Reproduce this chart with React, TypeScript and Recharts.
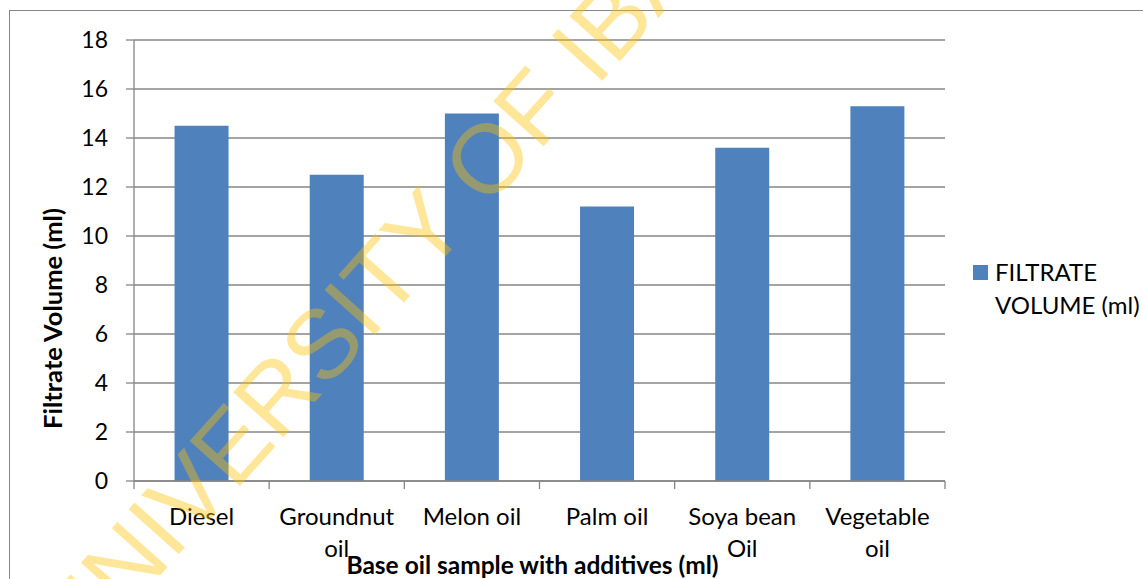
import { BarChart, Bar, XAxis, YAxis, CartesianGrid, Legend } from 'recharts';

// values
const CATEGORIES = ['Diesel', 'Groundnut oil', 'Melon oil', 'Palm oil', 'Soya bean Oil', 'Vegetable oil'];
const FILTRATE_VOLUME = [14.5, 12.5, 15.0, 11.2, 13.6, 15.3];
const Y_TICKS = [0, 2, 4, 6, 8, 10, 12, 14, 16, 18];
const SERIES_NAME = 'FILTRATE VOLUME (ml)';
const X_TITLE = 'Base oil sample with additives (ml)';
const Y_TITLE = 'Filtrate Volume (ml)';
const WATERMARK = 'UNIVERSITY OF IBADAN';

const BAR_COLOR = '#4F81BD';
const LINE_COLOR = '#868686';
const FONT = 'Lato, "Open Sans", sans-serif';

const data = CATEGORIES.map((name, i) => ({ name, volume: FILTRATE_VOLUME[i] }));

// Excel-style wrapping: long labels break at the last space
function splitLabel(label: string) {
    if (label.length <= 10) return [label];
    const i = label.lastIndexOf(' ');
    return [label.slice(0, i), label.slice(i + 1)];
}

function CategoryTick(props: any) {
    const { x, y, payload, index, visibleTicksCount, width } = props;
    const half = payload.offset || width / visibleTicksCount / 2;
    const lines = splitLabel(payload.value);
    const axisY = y - 8;
    return (
        <g>
            <line x1={x - half} x2={x - half} y1={axisY} y2={axisY + 8} stroke={LINE_COLOR} strokeWidth={1.3} />
            {index === visibleTicksCount - 1 && (
                <line x1={x + half} x2={x + half} y1={axisY} y2={axisY + 8} stroke={LINE_COLOR} strokeWidth={1.3} />
            )}
            <text textAnchor="middle" fontSize={24} fontFamily={FONT} fill="#000">
                {lines.map((l, i) => (
                    <tspan key={i} x={x} y={y + 36 + i * 32}>{l}</tspan>
                ))}
            </text>
        </g>
    );
}

function LegendBox() {
    return (
        <div style={{ display: 'flex', fontFamily: FONT, fontSize: 24, lineHeight: '33px', color: '#000' }}>
            <div style={{ width: 15, height: 15, background: BAR_COLOR, marginTop: 10, marginRight: 7, flexShrink: 0 }} />
            <div>
                FILTRATE<br />VOLUME (ml)
            </div>
        </div>
    );
}

export default function App() {
    return (
        <div style={{ position: 'fixed', left: 0, top: 0, width: 1143, height: 579, overflow: 'hidden', background: '#fff' }}>
            <div style={{ position: 'absolute', left: 9, top: 10, width: 1300, height: 700, border: `1.5px solid ${LINE_COLOR}` }} />
            <div style={{ position: 'absolute', left: 0, top: 0 }}>
                <BarChart
                    width={1143}
                    height={579}
                    data={data}
                    margin={{ top: 40, right: 198, left: 0, bottom: 0 }}
                    barCategoryGap="30%"
                >
                    <CartesianGrid vertical={false} stroke={LINE_COLOR} strokeWidth={1.3} />
                    <XAxis
                        dataKey="name"
                        height={98}
                        interval={0}
                        tickLine={false}
                        tickSize={8}
                        tickMargin={0}
                        axisLine={{ stroke: LINE_COLOR, strokeWidth: 1.3 }}
                        tick={<CategoryTick />}
                        label={{
                            content: ({ viewBox }: any) => (
                                <text
                                    x={viewBox.x + viewBox.width / 2 - 7}
                                    y={viewBox.y + 93}
                                    textAnchor="middle"
                                    fontFamily={FONT}
                                    fontWeight="bold"
                                    fontSize={24.5}
                                    fill="#000"
                                >
                                    {X_TITLE}
                                </text>
                            ),
                        }}
                    />
                    <YAxis
                        width={134}
                        domain={[0, 18]}
                        ticks={Y_TICKS}
                        interval={0}
                        tickSize={8}
                        tickMargin={18}
                        axisLine={{ stroke: LINE_COLOR, strokeWidth: 1.3 }}
                        tickLine={{ stroke: LINE_COLOR, strokeWidth: 1.3 }}
                        tick={{ fontSize: 23, fontFamily: FONT, fill: '#000' }}
                        label={{
                            content: ({ viewBox }: any) => {
                                const cx = viewBox.x + 52;
                                const cy = viewBox.y + viewBox.height / 2 + 58;
                                return (
                                    <text
                                        x={cx}
                                        y={cy}
                                        transform={`rotate(-90 ${cx} ${cy})`}
                                        textAnchor="middle"
                                        dominantBaseline="central"
                                        fontFamily={FONT}
                                        fontWeight="bold"
                                        fontSize={25.5}
                                        fill="#000"
                                    >
                                        {Y_TITLE}
                                    </text>
                                );
                            },
                        }}
                    />
                    <Legend
                        layout="vertical"
                        align="center"
                        verticalAlign="middle"
                        wrapperStyle={{ left: 973, top: 255, width: 170 }}
                        content={() => <LegendBox />}
                    />
                    <Bar dataKey="volume" name={SERIES_NAME} fill={BAR_COLOR} isAnimationActive={false} />
                </BarChart>
            </div>
            {/* watermark stamped over the chart */}
            <svg width={1143} height={579} style={{ position: 'absolute', left: 0, top: 0, pointerEvents: 'none' }}>
                <text
                    x={459}
                    y={241}
                    transform="rotate(-48.2 459 241)"
                    textAnchor="middle"
                    fontFamily='"Liberation Sans", Arial, sans-serif'
                    fontSize={98}
                    fill="#FFC000"
                    fillOpacity={0.4}
                >
                    {WATERMARK}
                </text>
            </svg>
        </div>
    );
}
